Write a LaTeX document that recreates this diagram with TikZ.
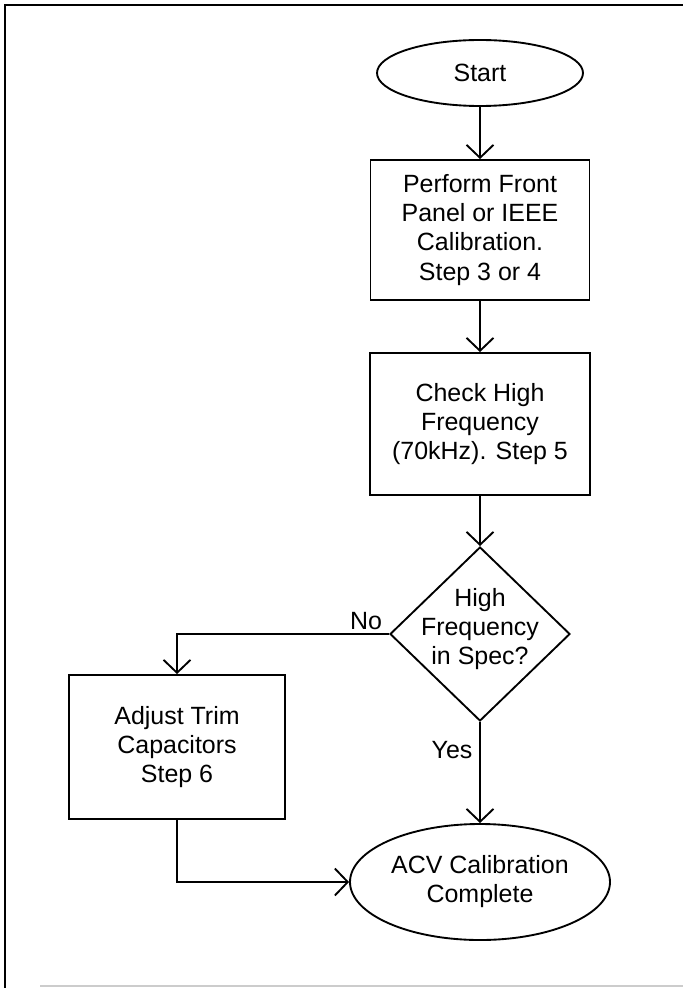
\documentclass[tikz,border=0pt]{standalone}
\usepackage{fontspec}
\setmainfont{Liberation Sans}
\usetikzlibrary{shapes.geometric,arrows.meta}
\newcommand\pu{0.03cm}
\begin{document}
\begin{tikzpicture}[x=0.03cm,y=-0.03cm,
  every node/.style={font=\fontsize{21.3pt}{24.8pt}\selectfont},
  arr/.style={line width=1.6pt, -{Straight Barb[length=11pt,width=23pt,line width=1.6pt]}},
  procbox/.style={draw, line width=1.6pt, rectangle, align=center, inner sep=0pt},
  term/.style={draw, ellipse, line width=1.6pt, align=center, inner sep=0pt},
  lbl/.style={inner sep=0pt}]
\useasboundingbox (0,0) rectangle (683,988);
% frame
\coordinate (tl) at (5,5);
\coordinate (tr) at (683,5);
\coordinate (bl) at (5,988);
\coordinate (bb1) at (40,986);
\coordinate (bb2) at (683,986);
\draw[line width=1.5pt] (tr) -- (tl) -- (bl);
\draw[gray!40, line width=1.2pt] (bb1) -- (bb2);
% nodes
\node[term, minimum width={206*\pu}, minimum height={66*\pu}] (start) at (480,73) {Start};
\node[procbox, minimum width={219*\pu}, minimum height={140*\pu}] (cal) at (480,230)
  {Perform Front\\Panel or IEEE\\Calibration.\\Step 3 or 4};
\node[procbox, minimum width={220*\pu}, minimum height={142*\pu}] (chk) at (480,424)
  {Check High\\Frequency\\(70kHz). Step 5};
\node[draw, diamond, line width=1.6pt, minimum width={180*\pu}, minimum height={174*\pu}, inner sep=0pt] (dec) at (480,634) {};
\node[align=center, inner sep=0pt] (dectxt) at (480,629) {High\\Frequency\\in Spec?};
\node[procbox, minimum width={216*\pu}, minimum height={144*\pu}] (adj) at (177,747)
  {Adjust Trim\\Capacitors\\Step 6};
\node[term, minimum width={260*\pu}, minimum height={116*\pu}] (acv) at (480,882)
  {ACV Calibration\\Complete};
\node[lbl] (no) at (366,621) {No};
\node[lbl] (yes) at (452,750) {Yes};
% connectors
\draw[arr] (start.south) -- (cal.north);
\draw[arr] (cal.south) -- (chk.north);
\draw[arr] (chk.south) -- (dec.north);
\draw[arr] (dec.west) -| (adj.north);
\draw[arr] (dec.south) -- (acv.north);
\draw[arr] (adj.south) |- (acv.west);
\end{tikzpicture}
\end{document}
